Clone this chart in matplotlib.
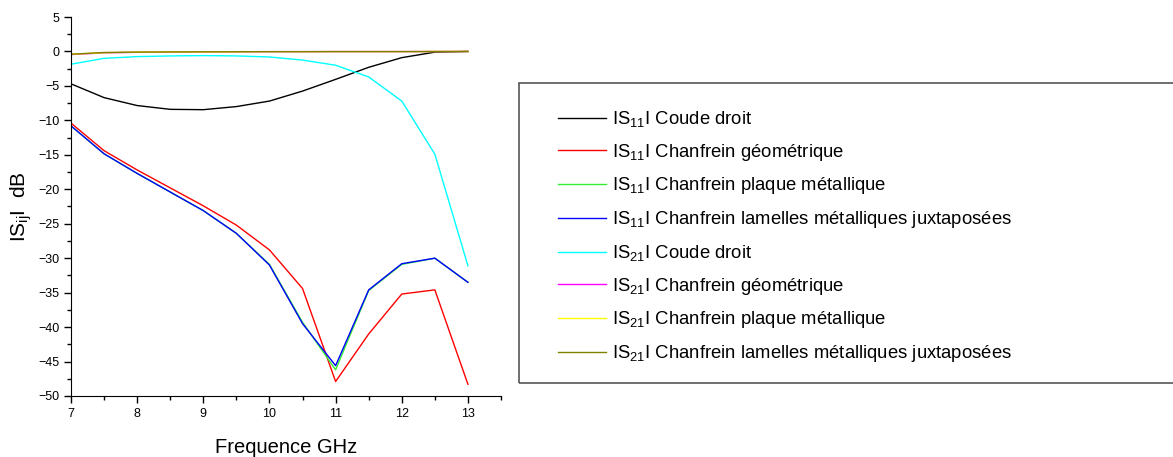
import matplotlib
matplotlib.use("Agg")
import matplotlib.pyplot as plt
from matplotlib.patches import Rectangle
from matplotlib.ticker import MultipleLocator

plt.rcParams['font.family'] = ['Liberation Sans', 'DejaVu Sans']
plt.rcParams['mathtext.fontset'] = 'custom'
plt.rcParams['mathtext.rm'] = 'Liberation Sans'
plt.rcParams['mathtext.it'] = 'Liberation Sans'

# frequency points (GHz)
freq = [7, 7.5, 8, 8.5, 9, 9.5, 10, 10.5, 11, 11.5, 12, 12.5, 13]

s11_coude = [-4.7, -6.7, -7.85, -8.4, -8.45, -8.0, -7.2, -5.75, -4.05, -2.3, -0.9, -0.1, 0.0]
s11_geo = [-10.4, -14.4, -17.2, -19.8, -22.4, -25.2, -28.8, -34.4, -47.9, -41.0, -35.2, -34.6, -48.3]
s11_plaque = [-10.8, -14.85, -17.7, -20.4, -23.1, -26.4, -30.9, -39.3, -46.2, -34.7, -30.9, -30.0, -33.5]
s11_lamelles = [-10.8, -14.85, -17.7, -20.4, -23.1, -26.4, -31.0, -39.5, -45.6, -34.6, -30.8, -30.0, -33.5]
s21_coude = [-1.85, -1.0, -0.75, -0.65, -0.6, -0.65, -0.8, -1.25, -2.0, -3.7, -7.2, -14.9, -31.1]
s21_geo = [-0.45, -0.2, -0.12, -0.08, -0.05, -0.04, -0.03, -0.03, -0.02, -0.02, -0.02, -0.01, 0.0]
s21_plaque = [-0.4, -0.18, -0.1, -0.07, -0.05, -0.04, -0.03, -0.03, -0.02, -0.02, -0.02, -0.01, 0.0]
s21_lamelles = [-0.4, -0.15, -0.1, -0.07, -0.05, -0.04, -0.03, -0.03, -0.02, -0.02, -0.02, -0.01, 0.0]

labels = [
    "IS$_{11}$I Coude droit",
    "IS$_{11}$I Chanfrein géométrique",
    "IS$_{11}$I Chanfrein plaque métallique",
    "IS$_{11}$I Chanfrein lamelles métalliques juxtaposées",
    "IS$_{21}$I Coude droit",
    "IS$_{21}$I Chanfrein géométrique",
    "IS$_{21}$I Chanfrein plaque métallique",
    "IS$_{21}$I Chanfrein lamelles métalliques juxtaposées",
]
series = [s11_coude, s11_geo, s11_plaque, s11_lamelles,
          s21_coude, s21_geo, s21_plaque, s21_lamelles]
colors = ["black", "red", "#33ee33", "blue", "cyan", "magenta", "yellow", "#808000"]

fig = plt.figure(figsize=(11.73, 4.57), dpi=100)
ax = fig.add_axes([71 / 1173, 1 - 396 / 457, (501 - 71) / 1173, (396 - 17) / 457])

lines = []
for y, c, lab in zip(series, colors, labels):
    ln, = ax.plot(freq, y, color=c, lw=1.0, label=lab)
    lines.append(ln)

ax.set_xlim(7, 13.5)
ax.set_ylim(-50, 5)
ax.xaxis.set_major_locator(MultipleLocator(1))
ax.xaxis.set_minor_locator(MultipleLocator(0.5))
ax.yaxis.set_major_locator(MultipleLocator(5))
ax.yaxis.set_minor_locator(MultipleLocator(2.5))
ax.tick_params(which='major', direction='out', length=5, width=1, labelsize=9)
ax.tick_params(which='minor', direction='out', length=3, width=1)
ax.spines['top'].set_visible(False)
ax.spines['right'].set_visible(False)

ax.set_xlabel("Frequence GHz", fontsize=14.5, labelpad=13)
ax.set_ylabel("IS$_{ij}$I  dB", fontsize=15, labelpad=3)

# legend box (runs off the right edge)
fig.add_artist(Rectangle((519 / 1173, 1 - 383 / 457), 0.6, 300 / 457,
                         transform=fig.transFigure, fill=False,
                         edgecolor="#555555", lw=1.2))
fig.legend(lines, labels, loc='upper left', bbox_to_anchor=(558 / 1173, 1 - 109 / 457),
           frameon=False, handlelength=2.6, handletextpad=0.33,
           labelspacing=0.69, borderaxespad=0, borderpad=0, fontsize=13.3)

fig.savefig("out.png", dpi=100)
